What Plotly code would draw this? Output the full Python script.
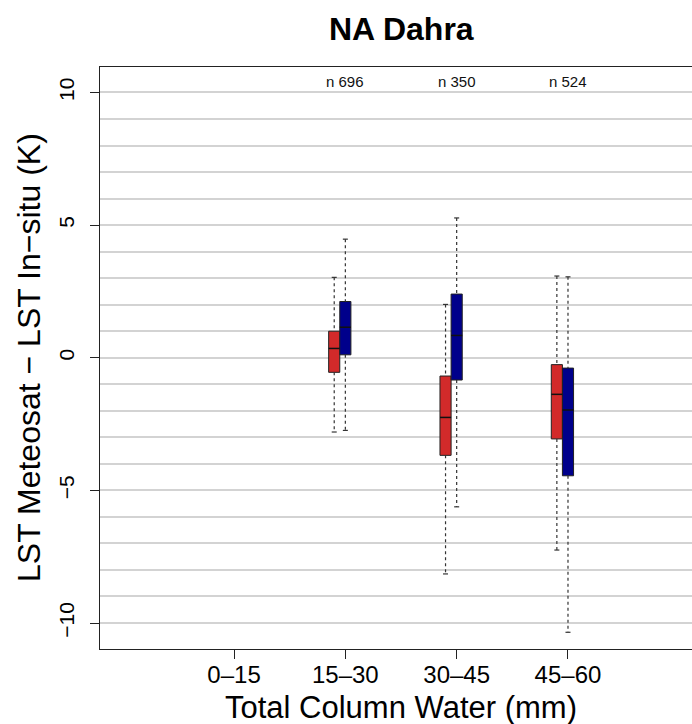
import plotly.graph_objects as go

# ---- data ----
categories = ["0–15", "15–30", "30–45", "45–60"]
cat_pos = [1, 2, 3, 4]
data_pos = [2, 3, 4]           # categories that have data
n_labels = ["n 696", "n 350", "n 524"]

# red series (left box)
red_low = [-2.80, -8.15, -7.25]
red_q1 = [-0.55, -3.68, -3.06]
red_med = [0.35, -2.25, -1.38]
red_q3 = [1.00, -0.69, -0.26]
red_high = [3.03, 2.01, 3.08]

# blue series (right box)
blue_low = [-2.74, -5.62, -10.35]
blue_q1 = [0.11, -0.84, -4.45]
blue_med = [1.15, 0.84, -1.97]
blue_q3 = [2.12, 2.40, -0.39]
blue_high = [4.47, 5.27, 3.05]

RED = "#D22A2A"
BLUE = "#00008B"
FONT = "Liberation Sans"

W, H = 692, 724
L, R, T, B = 100, 0, 67, 75

fig = go.Figure()

box_w = 0.1
cap_w = 0.045
series = [
    (RED, -0.1, red_low, red_q1, red_med, red_q3, red_high),
    (BLUE, 0.0, blue_low, blue_q1, blue_med, blue_q3, blue_high),
]

for color, off, low, q1, med, q3, high in series:
    xs = [p + off for p in data_pos]
    # boxes
    fig.add_trace(go.Bar(
        x=xs, base=q1, y=[b - a for a, b in zip(q1, q3)], width=box_w,
        marker=dict(color=color, line=dict(color="#222222", width=1)),
        showlegend=False, hoverinfo="skip"))
    # whiskers (dashed) and caps
    wx, wy, cx, cy, mx, my = [], [], [], [], [], []
    for x, lo, a, m, b, hi in zip(xs, low, q1, med, q3, high):
        wx += [x, x, None, x, x, None]
        wy += [hi, b, None, a, lo, None]
        cx += [x - cap_w / 2, x + cap_w / 2, None, x - cap_w / 2, x + cap_w / 2, None]
        cy += [hi, hi, None, lo, lo, None]
        mx += [x - box_w / 2, x + box_w / 2, None]
        my += [m, m, None]
    fig.add_trace(go.Scatter(x=wx, y=wy, mode="lines",
                             line=dict(color="#333333", width=1.2, dash="3px,3px"),
                             showlegend=False, hoverinfo="skip"))
    fig.add_trace(go.Scatter(x=cx, y=cy, mode="lines",
                             line=dict(color="#333333", width=1.2),
                             showlegend=False, hoverinfo="skip"))
    fig.add_trace(go.Scatter(x=mx, y=my, mode="lines",
                             line=dict(color="#111111", width=1.5),
                             showlegend=False, hoverinfo="skip"))

annotations = []
for p, t in zip(data_pos, n_labels):
    annotations.append(dict(x=p, y=10.4, xref="x", yref="y", text=t, showarrow=False,
                            font=dict(family=FONT, size=15, color="#111111"),
                            xanchor="center", yanchor="middle"))

def py(p):  # pixel y -> paper
    return (H - B - p) / (H - T - B)

def px(p):  # pixel x -> paper
    return (p - L) / (W - L - R)

annotations.append(dict(x=px(401), y=py(29), xref="paper", yref="paper",
                        text="<b>NA Dahra</b>", showarrow=False,
                        font=dict(family=FONT, size=32, color="black"),
                        xanchor="center", yanchor="middle"))
annotations.append(dict(x=px(401), y=py(707), xref="paper", yref="paper",
                        text="Total Column Water (mm)", showarrow=False,
                        font=dict(family=FONT, size=31, color="black"),
                        xanchor="center", yanchor="middle"))
annotations.append(dict(x=px(29), y=py(358), xref="paper", yref="paper",
                        text="LST Meteosat − LST In−situ (K)", showarrow=False, textangle=-90,
                        font=dict(family=FONT, size=32, color="black"),
                        xanchor="center", yanchor="middle"))

fig.update_layout(
    width=W, height=H,
    margin=dict(l=L, r=R, t=T, b=B, pad=0),
    paper_bgcolor="white", plot_bgcolor="white",
    barmode="overlay",
    annotations=annotations,
    font=dict(family=FONT, color="black"),
)

fig.update_xaxes(
    range=[-0.204, 5.114], tickmode="array", tickvals=cat_pos, ticktext=categories,
    showgrid=False, zeroline=False,
    showline=True, linecolor="#222222", linewidth=1, mirror=True,
    ticks="outside", ticklen=9, tickcolor="#222222", tickwidth=1,
    ticklabelstandoff=-5,
    tickfont=dict(family=FONT, size=24, color="black"),
)

fig.update_yaxes(
    range=[-10.98, 10.96], tickmode="linear", tick0=0, dtick=5,
    showgrid=True, gridcolor="#D3D3D3", gridwidth=1.5, zeroline=False,
    minor=dict(dtick=1, tick0=0, showgrid=True, gridcolor="#D3D3D3", gridwidth=1.5, ticks=""),
    showline=True, linecolor="#222222", linewidth=1, mirror=False,
    ticks="outside", ticklen=9, tickcolor="#222222", tickwidth=1,
    tickangle=-90, ticklabelstandoff=8,
    tickfont=dict(family=FONT, size=21, color="black"),
)

fig.write_html("out.html")
